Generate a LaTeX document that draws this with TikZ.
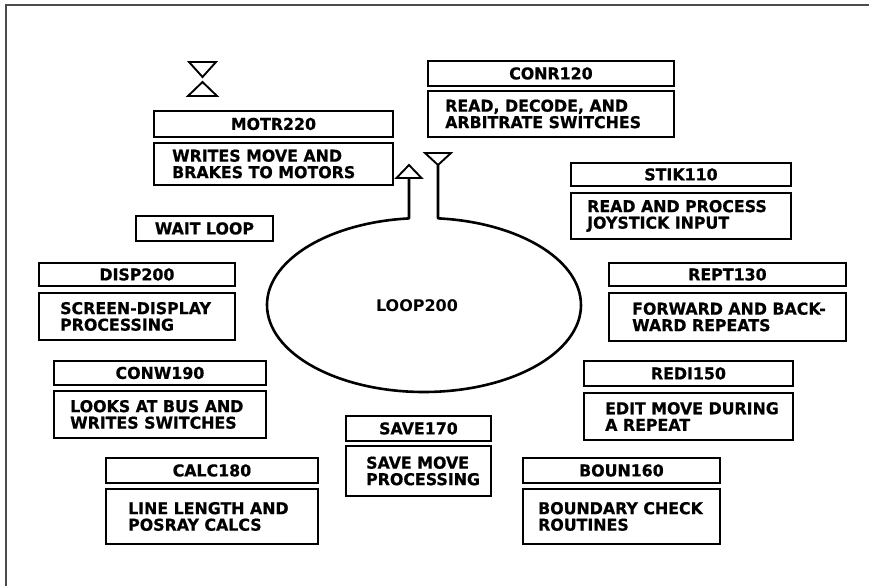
\documentclass[tikz,border=0pt]{standalone}
\usepackage{fontspec}
\newfontfamily\plotfont{DejaVu Sans}[FakeStretch=0.97, FakeBold=0.6]
\newfontfamily\loopfont{DejaVu Sans}[FakeStretch=1.0]
\begin{document}
\begin{tikzpicture}[x=1pt,y=-1pt,
  box/.style={draw, line width=1.9pt, inner sep=0pt, anchor=north west},
  hdr/.style={box, font=\plotfont\bfseries\fontsize{16.3}{17}\selectfont},
  dtext/.style={inner sep=0pt, anchor=west, align=left, font=\plotfont\bfseries\fontsize{16.3}{16.5}\selectfont},
  tri/.style={line width=1.9pt, line join=miter}]
\useasboundingbox (0,0) rectangle (869,586);
\fill[white] (0,0) rectangle (869,586);
% frame
\draw[line width=1.5pt, black!70] (6,586) -- (6,5) -- (869,5);

% hourglass
\coordinate (hgA) at (189,62);
\coordinate (hgB) at (216,62);
\coordinate (hgC) at (202.5,77);
\coordinate (hgD) at (202.5,82);
\coordinate (hgE) at (188,96);
\coordinate (hgF) at (217,96);
\draw[tri] (hgA) -- (hgB) -- (hgC) -- cycle;
\draw[tri] (hgD) -- (hgE) -- (hgF) -- cycle;

% MOTR220
\node[hdr, minimum width=239pt, minimum height=26pt] (motrH) at (153,110) {MOTR220};
\node[box, minimum width=239pt, minimum height=42pt] (motrD) at (153,142) {};
\node[dtext, xshift=19pt] (motrT) at (motrD.west) {WRITES MOVE AND\\BRAKES TO MOTORS};

% CONR120
\node[hdr, minimum width=246pt, minimum height=25pt] (conrH) at (427,60) {CONR120};
\node[box, minimum width=246pt, minimum height=46pt] (conrD) at (427,90) {};
\node[dtext, xshift=18pt] (conrT) at (conrD.west) {READ, DECODE, AND\\ARBITRATE SWITCHES};

% STIK110
\node[hdr, minimum width=220pt, minimum height=23pt] (stikH) at (570,162) {STIK110};
\node[box, minimum width=220pt, minimum height=46pt] (stikD) at (570,192) {};
\node[dtext, xshift=17pt] (stikT) at (stikD.west) {READ AND PROCESS\\JOYSTICK INPUT};

% WAIT LOOP
\node[hdr, minimum width=137pt, minimum height=25pt] (wait) at (135,215) {WAIT LOOP};

% DISP200
\node[hdr, minimum width=196pt, minimum height=23pt] (dispH) at (38,262) {DISP200};
\node[box, minimum width=196pt, minimum height=47pt] (dispD) at (38,292) {};
\node[dtext, xshift=22pt] (dispT) at (dispD.west) {SCREEN-DISPLAY\\PROCESSING};

% REPT130
\node[hdr, minimum width=237pt, minimum height=23pt] (reptH) at (608,262) {REPT130};
\node[box, minimum width=237pt, minimum height=48pt] (reptD) at (608,292) {};
\node[dtext, xshift=24pt] (reptT) at (reptD.west) {FORWARD AND BACK-\\WARD REPEATS};

% CONW190
\node[hdr, minimum width=212pt, minimum height=24pt] (conwH) at (53,360) {CONW190};
\node[box, minimum width=212pt, minimum height=47pt] (conwD) at (53,390) {};
\node[dtext, xshift=17pt] (conwT) at (conwD.west) {LOOKS AT BUS AND\\WRITES SWITCHES};

% REDI150
\node[hdr, minimum width=209pt, minimum height=25pt] (rediH) at (583,360) {REDI150};
\node[box, minimum width=209pt, minimum height=47pt] (rediD) at (583,392) {};
\node[dtext, xshift=22pt] (rediT) at (rediD.west) {EDIT MOVE DURING\\A REPEAT};

% SAVE170
\node[hdr, minimum width=145pt, minimum height=25pt] (saveH) at (345,415) {SAVE170};
\node[box, minimum width=145pt, minimum height=50pt] (saveD) at (345,445) {};
\node[dtext, xshift=21pt] (saveT) at (saveD.west) {SAVE MOVE\\PROCESSING};

% CALC180
\node[hdr, minimum width=212pt, minimum height=25pt] (calcH) at (105,457) {CALC180};
\node[box, minimum width=212pt, minimum height=55pt] (calcD) at (105,488) {};
\node[dtext, xshift=23pt] (calcT) at (calcD.west) {LINE LENGTH AND\\POSRAY CALCS};

% BOUN160
\node[hdr, minimum width=197pt, minimum height=25pt] (bounH) at (522,457) {BOUN160};
\node[box, minimum width=197pt, minimum height=55pt] (bounD) at (522,488) {};
\node[dtext, xshift=16pt] (bounT) at (bounD.west) {BOUNDARY CHECK\\ROUTINES};

% LOOP200 ellipse with stems
\node[font=\loopfont\bfseries\fontsize{16}{17}\selectfont, inner sep=0pt] (loop) at (417,306) {LOOP200};
\coordinate (upTip) at (409,165);
\coordinate (upL) at (396.5,178);
\coordinate (upR) at (421.5,178);
\coordinate (upBase) at (409,178);
\coordinate (dnL) at (425,153);
\coordinate (dnR) at (451,153);
\coordinate (dnTip) at (438,165);
\coordinate (lStem) at (409,218.4);
\draw[tri] (upTip) -- (upL) -- (upR) -- cycle;
\draw[tri] (dnL) -- (dnR) -- (dnTip) -- cycle;
\draw[line width=2.6pt, line join=round] (upBase) -- (lStem)
  arc[start angle=95.48, end angle=444.88, x radius=157pt, y radius=87pt] -- (dnTip);
\end{tikzpicture}
\end{document}
